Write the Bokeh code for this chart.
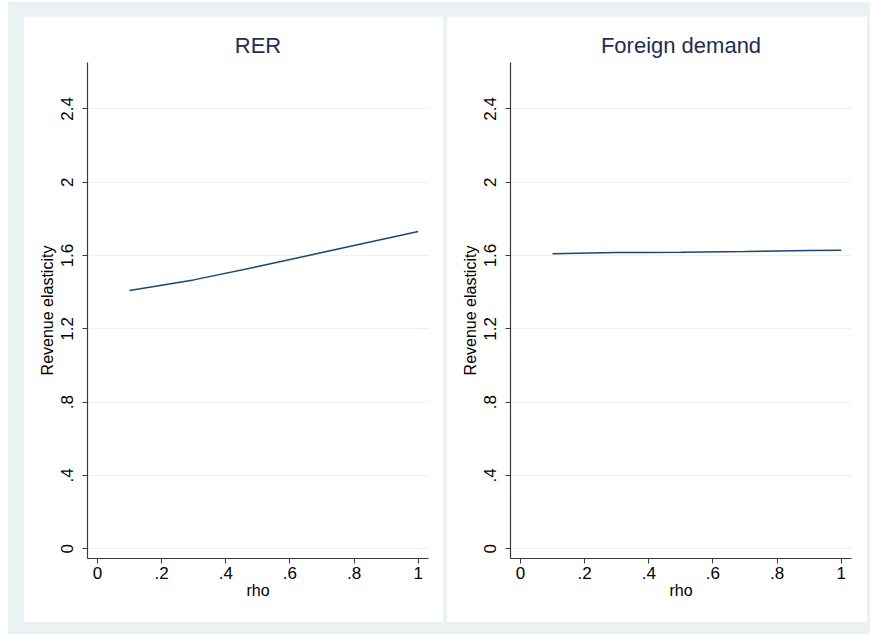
from bokeh.plotting import figure
from bokeh.layouts import row, column
from bokeh.models import Range1d, FixedTicker, Spacer
from bokeh.embed import file_html
from bokeh.resources import INLINE

# Data
rer_rho = [0.1, 0.3, 0.5, 0.7, 0.9, 1.0]
rer_elast = [1.409, 1.467, 1.540, 1.616, 1.693, 1.731]

fd_rho = [0.1, 0.3, 0.4, 0.5, 0.7, 0.9, 1.0]
fd_elast = [1.609, 1.617, 1.617, 1.618, 1.622, 1.627, 1.629]

x_ticks = [0, 0.2, 0.4, 0.6, 0.8, 1.0]
x_tick_labels = ["0", ".2", ".4", ".6", ".8", "1"]
y_ticks = [0, 0.4, 0.8, 1.2, 1.6, 2.0, 2.4]
y_tick_labels = ["0", ".4", ".8", "1.2", "1.6", "2", "2.4"]

titles = ["RER", "Foreign demand"]
x_label = "rho"
y_label = "Revenue elasticity"

BG = "#EAF2F3"
LINE = "#1a476f"
FONT = "Liberation Sans"


def make_panel(title, xs, ys, width, right_border):
    p = figure(width=width, height=606, output_backend="svg", toolbar_location=None,
               x_range=Range1d(-0.031, 1.032), y_range=Range1d(-0.053, 2.653),
               min_border_left=64, min_border_right=right_border,
               min_border_top=46, min_border_bottom=64)
    p.border_fill_color = "white"
    p.background_fill_color = "white"
    p.outline_line_color = None

    p.title.text = title
    p.title.align = "center"
    p.title.text_font = FONT
    p.title.text_font_size = "22px"
    p.title.text_font_style = "normal"
    p.title.text_color = "#1e2d50"
    p.title.standoff = 10

    p.line(xs, ys, line_color=LINE, line_width=1.5)

    p.xgrid.visible = False
    p.ygrid.grid_line_color = BG
    p.ygrid.grid_line_width = 1.2
    p.ygrid.ticker = FixedTicker(ticks=y_ticks)

    p.xaxis.ticker = FixedTicker(ticks=x_ticks)
    p.xaxis.major_label_overrides = {t: l for t, l in zip(x_ticks, x_tick_labels)}
    p.yaxis.ticker = FixedTicker(ticks=y_ticks)
    p.yaxis.major_label_overrides = {t: l for t, l in zip(y_ticks, y_tick_labels)}
    p.yaxis.major_label_orientation = "vertical"

    p.xaxis.axis_label = x_label
    p.yaxis.axis_label = y_label

    for ax in (p.xaxis[0], p.yaxis[0]):
        ax.axis_line_color = "#3a3a3a"
        ax.axis_line_width = 1.2
        ax.major_tick_line_color = "#3a3a3a"
        ax.major_tick_out = 5
        ax.major_tick_in = 0
        ax.minor_tick_line_color = None
        ax.major_label_text_font = FONT
        ax.major_label_text_font_size = "17px"
        ax.major_label_text_color = "black"
        ax.axis_label_text_font = FONT
        ax.axis_label_text_font_size = "16px"
        ax.axis_label_text_font_style = "normal"
        ax.axis_label_text_color = "black"
    p.xaxis.major_label_standoff = 3
    p.xaxis.axis_label_standoff = 0
    p.yaxis.major_label_standoff = 9
    p.yaxis.axis_label_standoff = 3
    return p


p1 = make_panel(titles[0], rer_rho, rer_elast, 420, 15)
p2 = make_panel(titles[1], fd_rho, fd_elast, 421, 16)

layout = column(
    Spacer(width=862, height=14),
    row(Spacer(width=15, height=606), p1, Spacer(width=3, height=606), p2, Spacer(width=3, height=606)),
    Spacer(width=862, height=12),
    styles={"background-color": BG},
    margin=(2, 0, 0, 8),
)

open("out.html", "w").write(file_html(layout, INLINE))
